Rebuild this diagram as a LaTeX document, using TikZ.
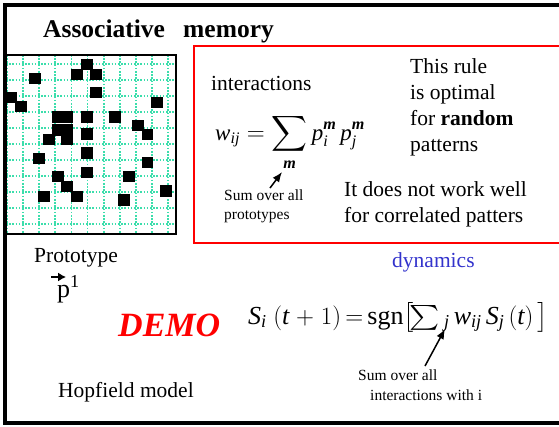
\documentclass[tikz,border=0pt]{standalone}
\usepackage{exscale}
\usepackage{amsmath}
\usepackage{fontspec}
\setmainfont{Liberation Serif}
\usetikzlibrary{arrows.meta}

\definecolor{gridcyan}{RGB}{60,222,172}
\definecolor{dynblue}{RGB}{51,51,204}

\newcommand{\bm}{\textbf{\textit{m}}}

\tikzset{
  titletxt/.style={font=\fontsize{25.5}{30}\selectfont\bfseries},
  bigtxt/.style={font=\fontsize{21.5}{26}\selectfont},
  smalltxt/.style={font=\fontsize{15.5}{19}\selectfont},
  gridline/.style={gridcyan,line width=1.8pt,dash pattern=on 1.6pt off 1.6pt},
  cell/.style={fill=black,minimum size=11.5pt,anchor=center},
  pointer/.style={-{Latex[length=10pt,width=8pt]},line width=1.5pt},
}

\begin{document}
\begin{tikzpicture}[x=1pt,y=-1pt,every node/.style={inner sep=0pt,anchor=base west}]
  \useasboundingbox (0,0) rectangle (559,426);
  \draw[line width=4pt] (566,4.5) -- (4.5,4.5) -- (4.5,423) -- (566,423);
  \draw[red,line width=1.5pt] (562,46) rectangle (194,243);

  % prototype pattern
  \fill[white] (6,55) rectangle (176,234);
  \foreach \x in {0,...,10} {\draw[gridline] (7+16.1*\x,55) -- (7+16.1*\x,234);}
  \foreach \y in {0,...,10} {\draw[gridline] (6,64+16*\y) -- (176,64+16*\y);}
  \def\cells{(87,64.5),(77,74.5),(96,74.5),(35,78.5),(96,92.5),(11,97.5),(21,106.5),(157,102.5),
    (58,117),(67,117),(87,117),(115,117),(138,125.5),(147.5,134.5),(58,130),(67,130),(67,139),
    (49,139.5),(87,134),(39,158.5),(87,153),(147.5,162.5),(87,172.5),(58,176.5),(129,176.5),
    (67,186.5),(166,191),(44,196.5),(77,196.5),(124,200)}
  \foreach \c [count=\i from 1] in \cells {\node[cell] (c\i) at \c {};}
  \draw[line width=1.5pt] (6,55) rectangle (176,234);

  \node[titletxt] (title1) at (43,37) {Associative};
  \node[titletxt] (title2) at (183,37) {memory};

  % learning rule
  \node[bigtxt] (inter) at (211,90) {interactions};
  \node[font=\fontsize{23}{27}\selectfont] (wrule) at (215,140)
    {$\mathit{w}_{\mathit{ij}} = \displaystyle\sum_{\bm} \mathit{p}_{\mathit{i}}^{\bm}\,\mathit{p}_{\mathit{j}}^{\bm}$};
  \node[smalltxt] (protosum1) at (224,200) {Sum over all};
  \node[smalltxt] (protosum2) at (224,219) {prototypes};
  \coordinate (protofrom) at (270,188);
  \coordinate (prototo) at (282,172);
  \draw[pointer] (protofrom) -- (prototo);
  \foreach \t [count=\i from 0] in {This rule,is optimal,for \textbf{random},patterns}
    {\node[bigtxt] (rule\i) at (410,73+26*\i) {\t};}
  \node[bigtxt] (corr1) at (344,196) {It does not work well};
  \node[bigtxt] (corr2) at (344,222) {for correlated patters};

  % prototype vector
  \node[bigtxt] (proto) at (34,262) {Prototype};
  \node[font=\fontsize{26}{30}\selectfont] (pvec) at (57,297) {p\textsuperscript{1}};
  \coordinate (veca) at (51,277);
  \coordinate (vecb) at (66,277);
  \draw[-{Latex[length=8pt,width=9pt]},line width=1.3pt] (veca) -- (vecb);

  \node[font=\fontsize{34}{40}\selectfont\bfseries\itshape,text=red] (demo) at (118,336) {DEMO};
  \node[bigtxt] (hopfield) at (58,397) {Hopfield model};

  % dynamics
  \node[bigtxt,text=dynblue] (dyn) at (392,267) {dynamics};
  \node[font=\fontsize{26}{30}\selectfont] (update) at (248,324)
    {\medmuskip=5mu\thickmuskip=3mu
     $\mathit{S}_{\mathit{i}}\ (\mathit{t}+1)=\mathrm{sgn}\big[\!\scalebox{1.15}[1]{$\sum$}\;{}_{\mathit{j}}\,\mathit{w}_{\mathit{ij}}\,\mathit{S}_{\mathit{j}}\,(\mathit{t})\,\big]$};
  \node[smalltxt] (intsum1) at (358,380) {Sum over all};
  \node[smalltxt] (intsum2) at (370,400) {interactions with i};
  \coordinate (intfrom) at (425,366);
  \coordinate (intto) at (445,329);
  \draw[pointer] (intfrom) -- (intto);
\end{tikzpicture}
\end{document}
